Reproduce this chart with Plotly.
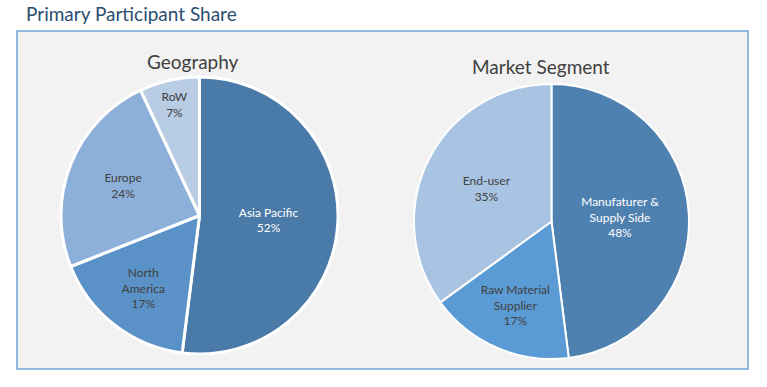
import plotly.graph_objects as go

# Data
geo_labels = ["Asia Pacific", "North<br>America", "Europe", "RoW"]
geo_values = [52, 17, 24, 7]
seg_labels = ["Manufaturer &<br>Supply Side", "Raw Material<br>Supplier", "End-user"]
seg_values = [48, 17, 35]

geo_colors = ["#4A7AA7", "#5A92C7", "#8DB0DA", "#B8CCE4"]
geo_text_colors = ["#FFFFFF", "#404040", "#404040", "#404040"]
seg_colors = ["#4F81B0", "#5B9BD5", "#A9C4E2"]
seg_text_colors = ["#FFFFFF", "#404040", "#404040"]

W, H = 767, 387
FONT = "Lato"

def px_x(x):
    return x / W

def px_y(y):
    return 1 - y / H

fig = go.Figure()

fig.add_trace(go.Pie(
    labels=geo_labels, values=geo_values, sort=False, direction="clockwise", rotation=0,
    marker=dict(colors=geo_colors, line=dict(color="white", width=3)),
    texttemplate="%{label}<br>%{value}%", textposition="inside",
    insidetextorientation="horizontal",
    textfont=dict(family=FONT, size=12, color=geo_text_colors),
    hoverinfo="label+percent", showlegend=False,
    domain=dict(x=[px_x(60), px_x(339)], y=[px_y(354), px_y(77)]),
))

fig.add_trace(go.Pie(
    labels=seg_labels, values=seg_values, sort=False, direction="clockwise", rotation=0,
    marker=dict(colors=seg_colors, line=dict(color="white", width=2)),
    texttemplate="%{label}<br>%{value}%", textposition="inside",
    insidetextorientation="horizontal",
    textfont=dict(family=FONT, size=12, color=seg_text_colors),
    hoverinfo="label+percent", showlegend=False,
    domain=dict(x=[px_x(414), px_x(689)], y=[px_y(361), px_y(82)]),
))

fig.add_shape(type="rect", xref="paper", yref="paper",
              x0=px_x(17), x1=px_x(748), y0=px_y(369), y1=px_y(31),
              fillcolor="#F2F2F2", line=dict(color="#6FA3D6", width=1.5), layer="below")

fig.add_annotation(text="Primary Participant Share", xref="paper", yref="paper",
                   x=px_x(24), y=px_y(13), xanchor="left", yanchor="middle", showarrow=False,
                   font=dict(family=FONT, size=19, color="#2A4D70"))
fig.add_annotation(text="Geography", xref="paper", yref="paper",
                   x=px_x(193), y=px_y(62), xanchor="center", yanchor="middle", showarrow=False,
                   font=dict(family=FONT, size=19, color="#404040"))
fig.add_annotation(text="Market Segment", xref="paper", yref="paper",
                   x=px_x(541), y=px_y(67), xanchor="center", yanchor="middle", showarrow=False,
                   font=dict(family=FONT, size=19, color="#404040"))

fig.update_layout(width=W, height=H, margin=dict(l=0, r=0, t=0, b=0),
                  paper_bgcolor="white", plot_bgcolor="white")

fig.write_html("out.html", config={"displayModeBar": False},
               post_script="document.body.style.margin='0';document.body.style.overflow='hidden';")
